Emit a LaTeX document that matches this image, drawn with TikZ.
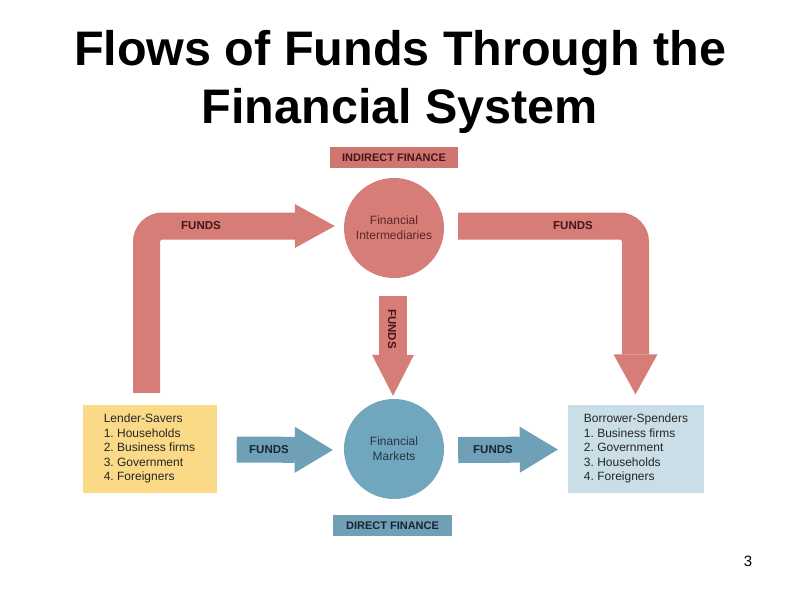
\documentclass[tikz,border=0pt]{standalone}
\usepackage{fontspec}
\setmainfont{Liberation Sans}
\usetikzlibrary{arrows.meta}
\frenchspacing
\definecolor{cred}{RGB}{213,125,118}
\definecolor{credbox}{RGB}{208,118,112}
\definecolor{cblue}{RGB}{110,161,184}
\definecolor{cbluecirc}{RGB}{112,166,190}
\definecolor{cbluebox}{RGB}{112,160,182}
\definecolor{cyellow}{RGB}{250,217,135}
\definecolor{clightblue}{RGB}{201,222,230}
\definecolor{cdarkred}{RGB}{70,20,25}
\definecolor{cdarkblue}{RGB}{25,35,50}
\definecolor{ctxtred}{RGB}{90,40,40}
\definecolor{ctxtblue}{RGB}{35,55,70}
\tikzset{
  listbox/.style={rectangle, inner sep=0pt, minimum width=134pt, minimum height=88pt, align=left, font=\fontsize{12}{14.4}\selectfont, text=black!85},
  tag/.style={rectangle, inner sep=0pt, minimum height=21pt, font=\bfseries\fontsize{11}{13}\selectfont},
  hub/.style={circle, inner sep=0pt, minimum size=100pt, align=center, font=\fontsize{12}{15}\selectfont},
  flowlabel/.style={font=\bfseries\fontsize{11.5}{13}\selectfont, inner sep=0pt},
  titletext/.style={anchor=base, font=\bfseries\fontsize{48.5}{58}\selectfont, text=black},
  redflow/.style={draw=cred, line width=27pt, -{Triangle[length=40pt,width=44pt,line width=0pt]}},
  blueflow/.style={draw=cblue, line width=26pt, -{Triangle[length=38pt,width=46pt,line width=0pt]}}
}
\begin{document}
\begin{tikzpicture}[x=1pt,y=-1pt]
\useasboundingbox (0,0) rectangle (800,600);
\fill[white] (0,0) rectangle (800,600);

\node[titletext] (t1) at (400,65) {Flows of Funds Through the};
\node[titletext] (t2) at (400,123) {Financial System};

\node[tag, fill=credbox, minimum width=128pt, text=cdarkred] (indirect) at (394,157.5) {INDIRECT FINANCE};
\node[hub, fill=cred, text=ctxtred] (interm) at (394,228) {Financial\\Intermediaries};
\node[hub, fill=cbluecirc, text=ctxtblue] (markets) at (394,449) {Financial\\Markets};
\node[tag, fill=cbluebox, minimum width=119pt, text=cdarkblue] (direct) at (392.5,525.3) {DIRECT FINANCE};
\node[listbox, fill=cyellow] (lender) at (149.5,448.5) {Lender-Savers\\1. Households\\2. Business firms\\3. Government\\4. Foreigners};
\node[listbox, fill=clightblue, minimum width=136pt] (borrower) at (636,448.5) {Borrower-Spenders\\1. Business firms\\2. Government\\3. Households\\4. Foreigners};

\draw[redflow, rounded corners=16pt] ([xshift=-3pt,yshift=11.5pt]lender.north) |- ([xshift=-9pt,yshift=2pt]interm.west);
\draw[redflow, rounded corners=16pt] ([xshift=14pt,yshift=2pt]interm.east) -| ([xshift=-0.5pt,yshift=10pt]borrower.north);
\draw[redflow, line width=28pt, -{Triangle[length=41pt,width=42pt,line width=0pt]}] ([xshift=-1pt,yshift=-18pt]interm.south) -- ([xshift=-1pt,yshift=3pt]markets.north);
\draw[blueflow] ([xshift=20pt,yshift=-1pt]lender.east) -- ([xshift=-11pt,yshift=-1pt]markets.west);
\draw[blueflow] ([xshift=14pt,yshift=-1pt]markets.east) -- ([xshift=-10pt,yshift=-1pt]borrower.west);

\node[flowlabel, text=cdarkred] (f1) at (201,226) {FUNDS};
\node[flowlabel, text=cdarkred] (f2) at (573,226) {FUNDS};
\node[flowlabel, text=cdarkred, rotate=-90] (f3) at (392,329) {FUNDS};
\node[flowlabel, text=cdarkblue] (f4) at (269,450) {FUNDS};
\node[flowlabel, text=cdarkblue] (f5) at (493,450) {FUNDS};

\node[anchor=base, font=\fontsize{15}{18}\selectfont] (pg) at (748,566.5) {3};
\end{tikzpicture}
\end{document}
